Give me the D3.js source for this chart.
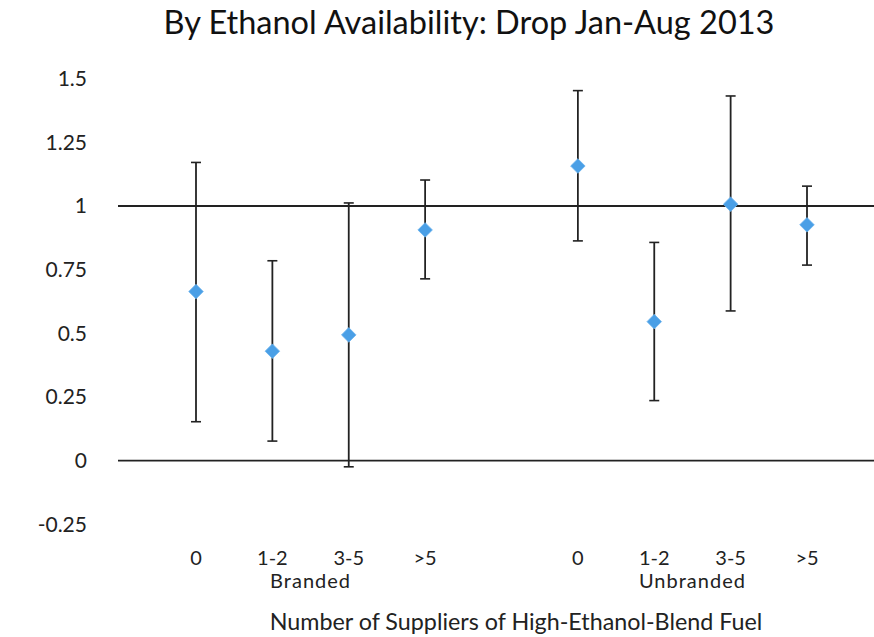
<!DOCTYPE html>
<head>
    <script src="https://d3js.org/d3.v7.min.js"></script>
</head>
<body style="margin:0; background:#fff">
    <svg width="874" height="637"></svg>
    <script>
        // groups of suppliers
        var categories = ["0", "1-2", "3-5", ">5", "0", "1-2", "3-5", ">5"];
        var slots = [0, 1, 2, 3, 5, 6, 7, 8];
        var groups = ["Branded", "Unbranded"];
        var estimate = [0.664, 0.430, 0.494, 0.906, 1.157, 0.546, 1.007, 0.926];
        var upper = [1.171, 0.785, 1.012, 1.102, 1.453, 0.857, 1.432, 1.078];
        var lower = [0.153, 0.077, -0.024, 0.714, 0.863, 0.236, 0.588, 0.768];
        var yTicks = [-0.25, 0, 0.25, 0.5, 0.75, 1, 1.25, 1.5];
        var refLines = [0, 1];

        var FONT = "Lato, 'Open Sans', sans-serif";
        var svg = d3.select("svg").style("font-family", FONT);

        var x = d3.scaleLinear().domain([0, 8]).range([196, 807]);
        var y = d3.scaleLinear().domain([0, 1]).range([460.7, 206]);

        svg.append("text")
            .attr("x", 469).attr("y", 34)
            .attr("text-anchor", "middle")
            .attr("font-size", 32.5)
            .attr("fill", "#111")
            .text("By Ethanol Availability: Drop Jan-Aug 2013");

        // y axis labels only
        var yAxis = svg.append("g")
            .attr("transform", "translate(92,0)")
            .call(d3.axisLeft(y).tickValues(yTicks).tickSize(0).tickPadding(5)
                .tickFormat(function(d) { return String(d); }));
        yAxis.select(".domain").remove();
        yAxis.selectAll("text")
            .attr("font-size", 21)
            .attr("font-family", FONT)
            .attr("fill", "#222");

        svg.selectAll(".ref")
            .data(refLines)
            .enter().append("line")
            .attr("class", "ref")
            .attr("x1", 118).attr("x2", 874)
            .attr("y1", function(d) { return y(d); })
            .attr("y2", function(d) { return y(d); })
            .attr("stroke", "#222")
            .attr("stroke-width", 1.8);

        var pts = svg.append("g").selectAll("g")
            .data(estimate.map(function(v, i) {
                return { x: slots[i], v: v, hi: upper[i], lo: lower[i] };
            }))
            .enter().append("g");

        pts.append("line")
            .attr("x1", function(d) { return x(d.x); })
            .attr("x2", function(d) { return x(d.x); })
            .attr("y1", function(d) { return y(d.hi); })
            .attr("y2", function(d) { return y(d.lo); })
            .attr("stroke", "#222").attr("stroke-width", 1.8);

        ["hi", "lo"].forEach(function(k) {
            pts.append("line")
                .attr("x1", function(d) { return x(d.x) - 5; })
                .attr("x2", function(d) { return x(d.x) + 5; })
                .attr("y1", function(d) { return y(d[k]); })
                .attr("y2", function(d) { return y(d[k]); })
                .attr("stroke", "#222").attr("stroke-width", 1.6);
        });

        pts.append("path")
            .attr("d", d3.symbol().type(d3.symbolDiamond2).size(135))
            .attr("transform", function(d) { return "translate(" + x(d.x) + "," + y(d.v) + ")"; })
            .attr("fill", "#4a9fe6")
            .attr("stroke", "#6bb3ee")
            .attr("stroke-width", 0.8);

        svg.append("g").selectAll("text")
            .data(categories)
            .enter().append("text")
            .attr("x", function(d, i) { return x(slots[i]); })
            .attr("y", 565)
            .attr("text-anchor", "middle")
            .attr("font-size", 20)
            .attr("fill", "#222")
            .text(function(d) { return d; });

        svg.append("g").selectAll("text")
            .data(groups)
            .enter().append("text")
            .attr("x", function(d, i) { return x(i === 0 ? 1.5 : 6.5); })
            .attr("y", 588)
            .attr("text-anchor", "middle")
            .attr("font-size", 20)
            .attr("letter-spacing", 1)
            .attr("fill", "#222")
            .text(function(d) { return d; });

        svg.append("text")
            .attr("x", 516).attr("y", 630)
            .attr("text-anchor", "middle")
            .attr("font-size", 23.3)
            .attr("fill", "#222")
            .text("Number  of Suppliers of High-Ethanol-Blend Fuel");
    </script>
</body>
